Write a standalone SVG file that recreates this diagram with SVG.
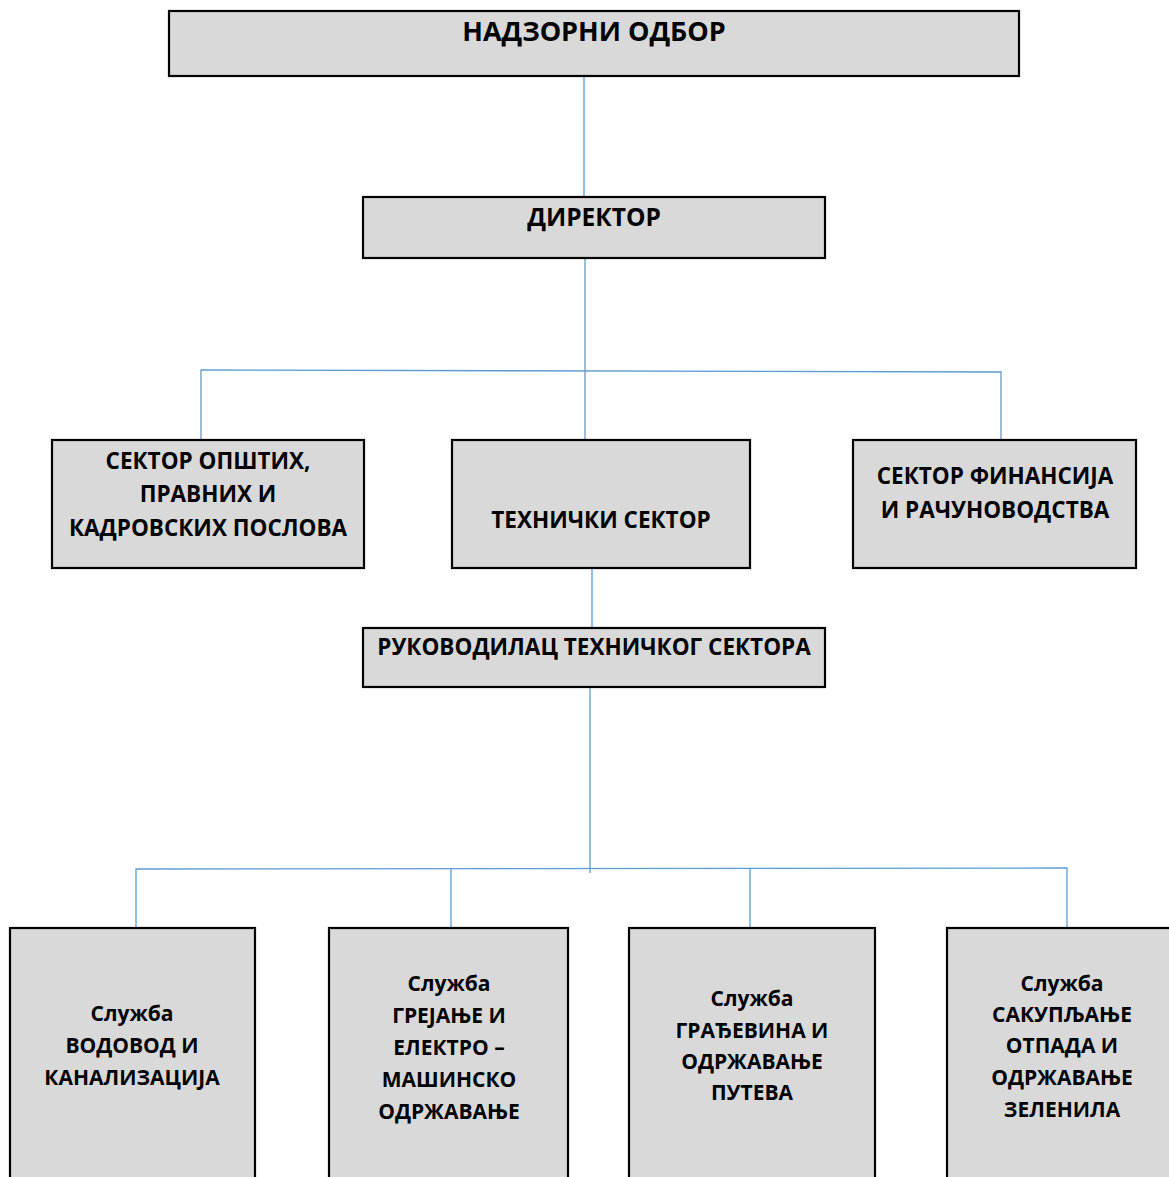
<svg xmlns="http://www.w3.org/2000/svg" width="1169" height="1177" viewBox="0 0 1169 1177">
<style>
.box{fill:#d9d9d9;stroke:#000;stroke-width:2.2}
.t{font-family:"Open Sans","Noto Sans","Liberation Sans",sans-serif;font-weight:700;font-size:21px;fill:#000;text-anchor:middle}
.big{font-size:27px}
.up{font-size:22.5px}
.dir{font-size:24.5px}
.c{stroke:#5b9bd5;stroke-width:1.3;fill:none}
</style>
<rect width="1169" height="1177" fill="#fff"/>
<g id="connectors">
<line class="c" x1="584" y1="76" x2="584" y2="197"/>
<line class="c" x1="585" y1="258" x2="585" y2="440"/>
<polyline class="c" points="201,440 201,370 1001,372 1001,440"/>
<line class="c" x1="592" y1="568" x2="592" y2="628"/>
<line class="c" x1="590" y1="687" x2="590" y2="873"/>
<polyline class="c" points="136,928 136,869 1067,868 1067,928"/>
<line class="c" x1="451" y1="869" x2="451" y2="928"/>
<line class="c" x1="750" y1="868" x2="750" y2="928"/>
</g>
<g id="nadzorni-odbor">
<rect class="box" x="169" y="11" width="850" height="65"/>
<text class="t big" x="594" y="41">НАДЗОРНИ ОДБОР</text>
</g>
<g id="direktor">
<rect class="box" x="363" y="197" width="462" height="61"/>
<text class="t dir" x="594" y="226">ДИРЕКТОР</text>
</g>
<g id="sektor-opstih">
<rect class="box" x="52" y="440" width="312" height="128"/>
<text class="t up" x="208" y="469">СЕКТОР ОПШТИХ,</text>
<text class="t up" x="208" y="502">ПРАВНИХ И</text>
<text class="t up" x="208" y="536">КАДРОВСКИХ ПОСЛОВА</text>
</g>
<g id="tehnicki-sektor">
<rect class="box" x="452" y="440" width="298" height="128"/>
<text class="t up" x="601" y="528">ТЕХНИЧКИ СЕКТОР</text>
</g>
<g id="sektor-finansija">
<rect class="box" x="853" y="440" width="283" height="128"/>
<text class="t up" x="995" y="484">СЕКТОР ФИНАНСИЈА</text>
<text class="t up" x="995" y="518">И РАЧУНОВОДСТВА</text>
</g>
<g id="rukovodilac">
<rect class="box" x="363" y="628" width="462" height="59"/>
<text class="t up" x="594" y="655">РУКОВОДИЛАЦ ТЕХНИЧКОГ СЕКТОРА</text>
</g>
<g id="sluzba-vodovod">
<rect class="box" x="10" y="928" width="245" height="270"/>
<text class="t" x="132" y="1021">Служба</text>
<text class="t" x="132" y="1053">ВОДОВОД И</text>
<text class="t" x="132" y="1085">КАНАЛИЗАЦИЈА</text>
</g>
<g id="sluzba-grejanje">
<rect class="box" x="329" y="928" width="239" height="270"/>
<text class="t" x="449" y="991">Служба</text>
<text class="t" x="449" y="1023">ГРЕЈАЊЕ И</text>
<text class="t" x="449" y="1055">ЕЛЕКТРО –</text>
<text class="t" x="449" y="1087">МАШИНСКО</text>
<text class="t" x="449" y="1119">ОДРЖАВАЊЕ</text>
</g>
<g id="sluzba-gradjevina">
<rect class="box" x="629" y="928" width="246" height="270"/>
<text class="t" x="752" y="1006">Служба</text>
<text class="t" x="752" y="1038">ГРАЂЕВИНА И</text>
<text class="t" x="752" y="1069">ОДРЖАВАЊЕ</text>
<text class="t" x="752" y="1100">ПУТЕВА</text>
</g>
<g id="sluzba-sakupljanje">
<rect class="box" x="947" y="928" width="240" height="270"/>
<text class="t" x="1062" y="991">Служба</text>
<text class="t" x="1062" y="1022">САКУПЉАЊЕ</text>
<text class="t" x="1062" y="1053">ОТПАДА И</text>
<text class="t" x="1062" y="1085">ОДРЖАВАЊЕ</text>
<text class="t" x="1062" y="1117">ЗЕЛЕНИЛА</text>
</g>
</svg>
